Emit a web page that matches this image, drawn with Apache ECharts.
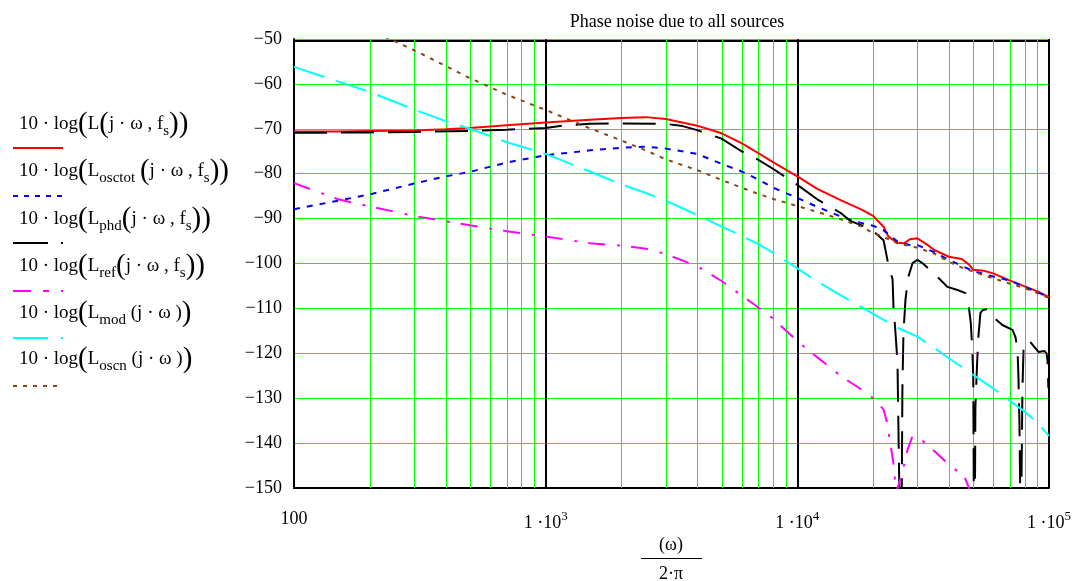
<!DOCTYPE html>
<html><head><meta charset="utf-8">
<script src="https://cdn.jsdelivr.net/npm/echarts@6/dist/echarts.min.js"></script>
<style>html,body{margin:0;padding:0;background:#fff}#c{width:1077px;height:581px}</style>
</head><body><div id="c"></div>
<script>
// ---- data (frequency in Hz, phase noise in dBc/Hz) ----
const redF = [100,150,200,300,400,500,700,1000,1500,2000,2500,3000,4000,5000,6000,7000,8000,10000,12000,15000,18000,20000,22000,23000,25000,26500,28000,30000,33000,35000,40000,45000,48000,50000,55000,60000,70000,80000,90000,100000];
const redV = [-70.6,-70.6,-70.5,-70.4,-70.1,-69.8,-69.2,-68.6,-68.0,-67.6,-67.4,-67.8,-69.3,-71.0,-73.2,-75.4,-77.4,-80.6,-83.4,-86.0,-88.0,-89.4,-91.8,-94.0,-95.4,-95.5,-94.6,-94.4,-95.9,-97.0,-98.5,-99.0,-100.2,-101.4,-101.6,-102.2,-103.8,-105.1,-106.2,-107.5];

const blueF = [100,150,200,300,400,500,700,1000,1500,2000,2500,3000,4000,5000,6000,7000,8000,10000,12000,15000,18000,20000,22000,25000,28000,30000,35000,40000,45000,50000,60000,70000,80000,90000,100000];
const blueV = [-87.9,-86.0,-84.6,-82.2,-80.6,-79.6,-77.5,-75.9,-74.8,-74.2,-74.0,-74.4,-75.6,-77.8,-79.5,-81.3,-83.1,-85.4,-87.4,-89.6,-91.0,-91.6,-92.6,-95.1,-95.9,-95.9,-97.5,-99.2,-100.5,-101.7,-102.9,-103.8,-105.2,-106.4,-107.5];

const blackF = [100,200,300,500,700,1000,1200,1500,2000,3000,3500,4000,5000,6000,7000,8000,10000,12000,15000,16200,17800,19500,20800,22000,22400,23000,23900,24100,24500,25000,25200,25500,26000,26150,26400,26900,27600,28700,30000,31400,34700,39500,43300,46600,48000,48900,49600,50000,50300,50800,51000,51800,52400,53400,54500,57000,59800,65300,71600,73600,75000,75600,76300,77000,77700,78400,79200,82900,90800,96000,97800,98600,99400,100000];
const blackV = [-70.9,-70.8,-70.7,-70.5,-70.2,-69.8,-69.2,-68.9,-68.8,-68.9,-69.4,-70.3,-72.2,-75.0,-76.9,-78.9,-82.5,-85.7,-88.9,-90.5,-91.4,-92.2,-93.6,-94.8,-97.0,-100.3,-103.5,-109.7,-114.8,-122,-135.5,-155,-150,-128,-115.5,-108,-103,-99.9,-99.2,-99.9,-102.1,-105.2,-105.9,-106.6,-109.6,-113.3,-119.3,-125.2,-155,-150,-132,-122.2,-116.4,-111,-110.4,-110.1,-111.9,-113.7,-114.8,-116.4,-119.3,-125.2,-135.5,-155,-150,-128.2,-119.3,-117,-119.7,-119.5,-120,-121.5,-127.5,-128];

const magF = [100,150,200,300,400,500,700,1000,1500,2000,2500,3000,4000,5000,6000,7000,8000,10000,12000,15000,18000,20000,22000,22600,23300,24100,24700,26150,27400,28700,31800,35900,40800,45800,48500,52000];
const magV = [-82.1,-85.7,-87.3,-89.4,-90.6,-91.5,-92.8,-94.0,-95.5,-96.0,-96.7,-97.9,-100.6,-103.9,-107.1,-109.8,-112.2,-117.3,-120.9,-125.2,-128.1,-130.0,-132.5,-134.9,-139.3,-144.5,-151,-146.5,-141.5,-138.4,-139.7,-142.3,-145.3,-147.1,-150.5,-155];

const cyanF = [100,150,200,300,400,500,700,1000,1500,2000,2500,3000,4000,5000,6000,7000,8000,10000,12000,15000,18000,20000,25000,30000,35000,40000,50000,60000,70000,80000,90000,100000];
const cyanV = [-56.2,-59.5,-61.8,-65.7,-68.3,-70.0,-73.0,-75.6,-79.5,-82.4,-84.3,-86.0,-89.2,-91.8,-93.8,-95.7,-97.6,-101.1,-104.0,-107.2,-109.7,-111.2,-114.3,-116.3,-118.8,-121.1,-124.8,-127.8,-130.6,-133.0,-135.5,-138.4];

const brownF = [100,150,200,300,400,500,700,1000,1500,2000,2500,3000,4000,5000,6000,7000,8000,10000,12000,15000,18000,20000,22000,25000,28000,30000,35000,40000,45000,50000,60000,70000,80000,90000,100000];
const brownV = [-40.2,-44.7,-47.9,-52.5,-56.0,-58.7,-62.4,-65.8,-69.9,-72.6,-74.8,-76.8,-79.2,-81.4,-83.1,-84.5,-85.6,-87.2,-88.5,-90.2,-91.8,-93.2,-94.1,-95.5,-96.1,-96.5,-97.8,-99.6,-100.9,-101.8,-103.3,-104.5,-105.5,-106.6,-107.7];

const minorGridF = [200,300,400,500,600,700,800,900,2000,3000,4000,5000,6000,7000,8000,9000,20000,30000,40000,50000,60000,70000,80000,90000];
const xTickValues = [100,1000,10000,100000];
const xTickMant = ['100','1 ·10','1 ·10','1 ·10'];
const xTickSup = ['','3','4','5'];
const titleText = 'Phase noise due to all sources';

// ---- chart ----
const FONT = '"Liberation Serif","Times New Roman",serif';
const GREEN = '#00ff00';
const pairs = (f, v) => f.map((x, i) => [x, v[i]]);
const chart = echarts.init(document.getElementById('c'), null, {renderer: 'canvas'});

function mkSeries(name, f, v, color, dash, z) {
  return {
    name, type: 'line', data: pairs(f, v), symbol: 'none', showSymbol: false,
    clip: true, animation: false, z,
    lineStyle: {color, width: 2, type: dash, cap: 'butt'}
  };
}

const legendRows = [
  {txt: '{t|10 · log}{bp|(}{t|L}{bp|(}{t|j · ω , f}{s|s}{bp|))}', color: '#ff0000', dash: null},
  {txt: '{t|10 · log}{bp|(}{t|L}{s|osctot}{t| }{bp|(}{t|j · ω , f}{s|s}{bp|))}', color: '#0000ff', dash: [5, 6]},
  {txt: '{t|10 · log}{bp|(}{t|L}{s|phd}{bp|(}{t|j · ω , f}{s|s}{bp|))}', color: '#000000', dash: [35, 13, 2, 20]},
  {txt: '{t|10 · log}{bp|(}{t|L}{s|ref}{bp|(}{t|j · ω , f}{s|s}{bp|))}', color: '#ff00ff', dash: [18, 12, 6, 12, 2, 20]},
  {txt: '{t|10 · log}{bp|(}{t|L}{s|mod}{t| (j · ω )}{bp|)}', color: '#00ffff', dash: [35, 13, 2, 20]},
  {txt: '{t|10 · log}{bp|(}{t|L}{s|oscn}{t| (j · ω )}{bp|)}', color: '#8b4513', dash: [4, 6]}
];
const richLegend = {
  t: {fontFamily: FONT, fontSize: 19, color: '#000', verticalAlign: 'middle'},
  bp: {fontFamily: FONT, fontSize: 29, color: '#000', verticalAlign: 'middle'},
  s: {fontFamily: FONT, fontSize: 15, color: '#000', verticalAlign: 'bottom', padding: [11, 0, 0, 0]}
};
const graphics = [];
const textY = [123, 170, 218, 265, 312, 358];
const lineY = [148, 196, 243, 291, 338, 386];
legendRows.forEach((r, i) => {
  graphics.push({type: 'text', left: 19, top: textY[i] - 13,
    style: {text: r.txt, rich: richLegend, fill: '#000'}});
  graphics.push({type: 'line', shape: {x1: 13, y1: lineY[i], x2: 63, y2: lineY[i]},
    style: {stroke: r.color, lineWidth: 2, lineDash: r.dash || null}});
});
// x-axis name (fraction)
graphics.push({type: 'text', x: 671, y: 545, style: {text: '(ω)', font: '18px ' + FONT, fill: '#000', textAlign: 'center', textVerticalAlign: 'middle'}});
graphics.push({type: 'line', shape: {x1: 641, y1: 558.5, x2: 702, y2: 558.5}, style: {stroke: '#000', lineWidth: 1}});
graphics.push({type: 'text', x: 671, y: 574, style: {text: '2·π', font: '18px ' + FONT, fill: '#000', textAlign: 'center', textVerticalAlign: 'middle'}});

const option = {
  backgroundColor: '#fff',
  animation: false,
  title: {text: titleText, left: 672, top: 8, textAlign: 'center',
    textStyle: {fontFamily: FONT, fontSize: 18, fontWeight: 'normal', color: '#000'}},
  grid: {left: 294, right: 28, top: 39, bottom: 93, containLabel: false},
  xAxis: [{
    type: 'log', logBase: 10, min: 100, max: 100000,
    axisLine: {show: true, onZero: false, lineStyle: {color: '#000', width: 2}},
    axisTick: {show: false},
    splitLine: {show: true, lineStyle: {color: '#000', width: 2}},
    axisLabel: {
      margin: 22, color: '#000',
      formatter: v => {
        const i = xTickValues.findIndex(t => Math.abs(Math.log10(t) - Math.log10(v)) < 1e-6);
        if (i < 0) return '';
        return '{n|' + xTickMant[i] + '}' + (xTickSup[i] ? '{sup|' + xTickSup[i] + '}' : '');
      },
      rich: {
        n: {fontFamily: FONT, fontSize: 18, color: '#000', verticalAlign: 'bottom'},
        sup: {fontFamily: FONT, fontSize: 13, color: '#000', verticalAlign: 'bottom', padding: [0, 0, 9, 0]}
      }
    }
  }, {
    type: 'log', logBase: 10, min: 100, max: 100000, position: 'top', offset: -2,
    axisLine: {show: true, onZero: false, lineStyle: {color: '#000', width: 2}},
    axisTick: {show: false}, axisLabel: {show: false}, splitLine: {show: false}
  }],
  yAxis: [{
    type: 'value', min: -150, max: -50, interval: 10,
    axisLine: {show: true, onZero: false, lineStyle: {color: '#000', width: 2}},
    axisTick: {show: false},
    splitLine: {show: true, lineStyle: {color: GREEN, width: 1}},
    axisLabel: {margin: 12, color: '#000', fontFamily: FONT, fontSize: 18,
      formatter: v => (v < 0 ? '\u2212' : '') + Math.abs(v)}
  }],
  series: [
    {type: 'custom', z: 1, silent: true, clip: true,
      data: minorGridF.map(f => [f, -100]),
      encode: {x: 0, y: 1},
      renderItem: (params, api) => {
        const lo = api.coord([api.value(0), -150]);
        const hi = api.coord([api.value(0), -50]);
        const x = Math.round(lo[0]) + 0.5;
        return {type: 'line', shape: {x1: x, y1: hi[1], x2: x, y2: lo[1]},
          style: {stroke: GREEN, lineWidth: 1}};
      }},
    mkSeries('L', redF, redV, '#ff0000', 'solid', 3),
    mkSeries('Losctot', blueF, blueV, '#0000ff', [6, 7], 4),
    mkSeries('Lphd', blackF, blackV, '#000000', [33, 14], 5),
    mkSeries('Lref', magF, magV, '#ff00ff', [17, 12, 3, 11], 6),
    mkSeries('Lmod', cyanF, cyanV, '#00ffff', [32, 12], 7),
    mkSeries('Loscn', brownF, brownV, '#8b4513', [4, 6], 8)
  ],
  graphic: graphics
};
chart.setOption(option);
</script></body></html>
